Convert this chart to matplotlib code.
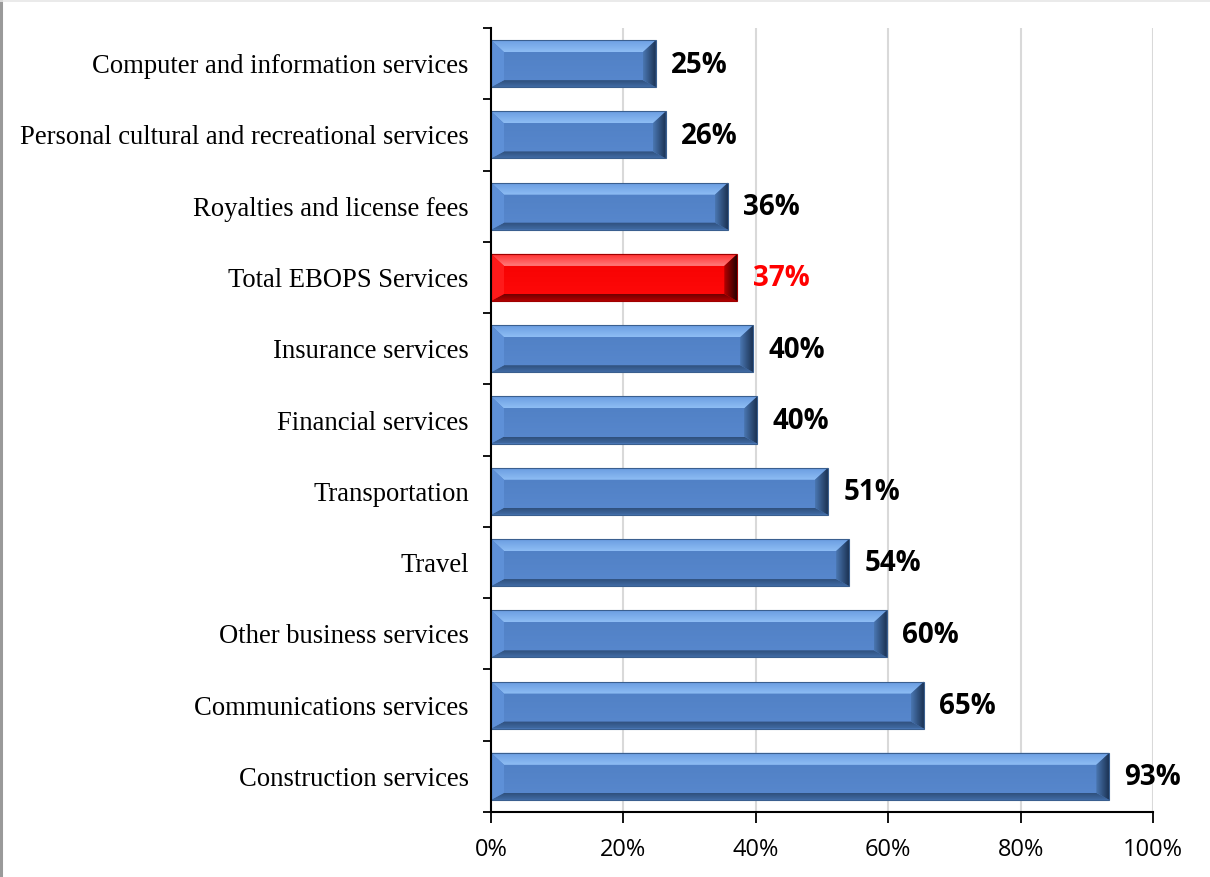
import matplotlib
matplotlib.use("Agg")
import matplotlib.pyplot as plt
from matplotlib.patches import Polygon, Rectangle
from matplotlib.lines import Line2D
from matplotlib.colors import LinearSegmentedColormap
import numpy as np

# Share of services exports, by EBOPS category (bottom to top)
categories = [
    "Construction services",
    "Communications services",
    "Other business services",
    "Travel",
    "Transportation",
    "Financial services",
    "Insurance services",
    "Total EBOPS Services",
    "Royalties and license fees",
    "Personal cultural and recreational services",
    "Computer and information services",
]
shares = [93.4, 65.4, 59.8, 54.1, 50.9, 40.2, 39.6, 37.2, 35.8, 26.4, 24.9]
highlight = "Total EBOPS Services"
x_ticks = [0, 20, 40, 60, 80, 100]

fig = plt.figure(figsize=(12.10, 8.77), dpi=100)
ax = fig.add_axes([491 / 1210, 1 - 812 / 877, (1153 - 491) / 1210, (812 - 28) / 877])

y = np.arange(len(categories))
bar_h = 0.66
ax.set_xlim(0, 100)
ax.set_ylim(-0.5, len(categories) - 0.5)

blue = dict(face=["#5888ce", "#4f7fc3"], top=["#8ebdf4", "#6a9de1"],
            bottom=["#416ca5", "#2f4f7c"], left="#5e90d7",
            right=["#4a77b2", "#1c3354"], edge="#3a5f8f")
red = dict(face=["#ff0a0a", "#f50000"], top=["#ff7a7a", "#ff2a2a"],
           bottom=["#b00000", "#700000"], left="#ff1a1a",
           right=["#b80000", "#260000"], edge="#a00000")

bars = ax.barh(y, shares, height=bar_h, color="none", zorder=3, linewidth=0)

to_disp = ax.transData
to_data = ax.transData.inverted()
bev_x, bev_top, bev_bot = 13.0, 12.0, 7.0  # bevel sizes in pixels


def gradient_patch(pts, c0, c1, horizontal, z):
    """Fill a polygon (data coords) with a linear gradient from c0 to c1."""
    poly = Polygon(pts, closed=True, facecolor="none", edgecolor="none")
    ax.add_patch(poly)
    xs = [p[0] for p in pts]
    ys = [p[1] for p in pts]
    cmap = LinearSegmentedColormap.from_list("g", [c0, c1])
    grad = np.linspace(0, 1, 64)
    img = grad[np.newaxis, :] if horizontal else grad[:, np.newaxis]
    im = ax.imshow(img, cmap=cmap, aspect="auto", interpolation="bilinear",
                   extent=(min(xs), max(xs), max(ys), min(ys)) if not horizontal
                   else (min(xs), max(xs), min(ys), max(ys)),
                   origin="upper", zorder=z)
    im.set_clip_path(poly)


for bar, cat in zip(bars, categories):
    pal = red if cat == highlight else blue
    x0, y0 = to_disp.transform((bar.get_x(), bar.get_y()))
    x1, y1 = to_disp.transform((bar.get_x() + bar.get_width(), bar.get_y() + bar.get_height()))

    def P(pts):
        return [tuple(to_data.transform(p)) for p in pts]

    face = P([(x0, y0), (x1, y0), (x1, y1), (x0, y1)])
    top = P([(x0, y1), (x1, y1), (x1 - bev_x, y1 - bev_top), (x0 + bev_x, y1 - bev_top)])
    bot = P([(x0, y0), (x1, y0), (x1 - bev_x, y0 + bev_bot), (x0 + bev_x, y0 + bev_bot)])
    lef = P([(x0, y0), (x0, y1), (x0 + bev_x, y1 - bev_top), (x0 + bev_x, y0 + bev_bot)])
    rig = P([(x1, y0), (x1, y1), (x1 - bev_x, y1 - bev_top), (x1 - bev_x, y0 + bev_bot)])

    gradient_patch(face, pal["face"][0], pal["face"][1], False, 3)
    gradient_patch(top, pal["top"][0], pal["top"][1], False, 4)
    gradient_patch(bot, pal["bottom"][0], pal["bottom"][1], False, 4)
    ax.add_patch(Polygon(lef, closed=True, facecolor=pal["left"], edgecolor="none", zorder=4))
    gradient_patch(rig, pal["right"][0], pal["right"][1], True, 4)
    ax.add_patch(Rectangle((bar.get_x(), bar.get_y()), bar.get_width(), bar.get_height(),
                           facecolor="none", edgecolor=pal["edge"], linewidth=0.8, zorder=5))

    ax.annotate(f"{bar.get_width():.0f}%",
                xy=(bar.get_width(), bar.get_y() + bar.get_height() / 2),
                xytext=(11, -1), textcoords="offset points", va="center", ha="left",
                fontsize=20, fontweight="bold", family="Open Sans",
                color="#ff0000" if cat == highlight else "black", zorder=6)

# Axes styling
ax.set_xticks(x_ticks)
ax.set_xticklabels([f"{t}%" for t in x_ticks], family="Open Sans", fontsize=17)
ax.tick_params(axis="x", direction="out", length=8, width=1.3, pad=11, colors="black")
ax.set_yticks(y)
ax.set_yticklabels(categories, family="Liberation Serif", fontsize=19.2)
ax.tick_params(axis="y", which="major", length=0, pad=16)
ax.set_yticks(np.arange(-0.5, len(categories), 1.0), minor=True)
ax.tick_params(axis="y", which="minor", direction="out", length=6, width=1.3)

for s in ("top", "right"):
    ax.spines[s].set_visible(False)
for s in ("left", "bottom"):
    ax.spines[s].set_linewidth(1.5)
    ax.spines[s].set_color("black")
    ax.spines[s].set_zorder(7)

for t in x_ticks[1:]:
    ax.axvline(t, color="#d9d9d9", linewidth=1.5, zorder=1)

ax.set_xlim(0, 100)
ax.set_ylim(-0.5, len(categories) - 0.5)

# Outer frame lines of the chart area
fig.add_artist(Line2D([1 / 1210, 1 / 1210], [0, 1], transform=fig.transFigure,
                      color="#9a9a9a", linewidth=2.2))
fig.add_artist(Line2D([0, 1], [1 - 0.5 / 877, 1 - 0.5 / 877], transform=fig.transFigure,
                      color="#e6e6e6", linewidth=1.2))

fig.savefig("out.png", dpi=100)
